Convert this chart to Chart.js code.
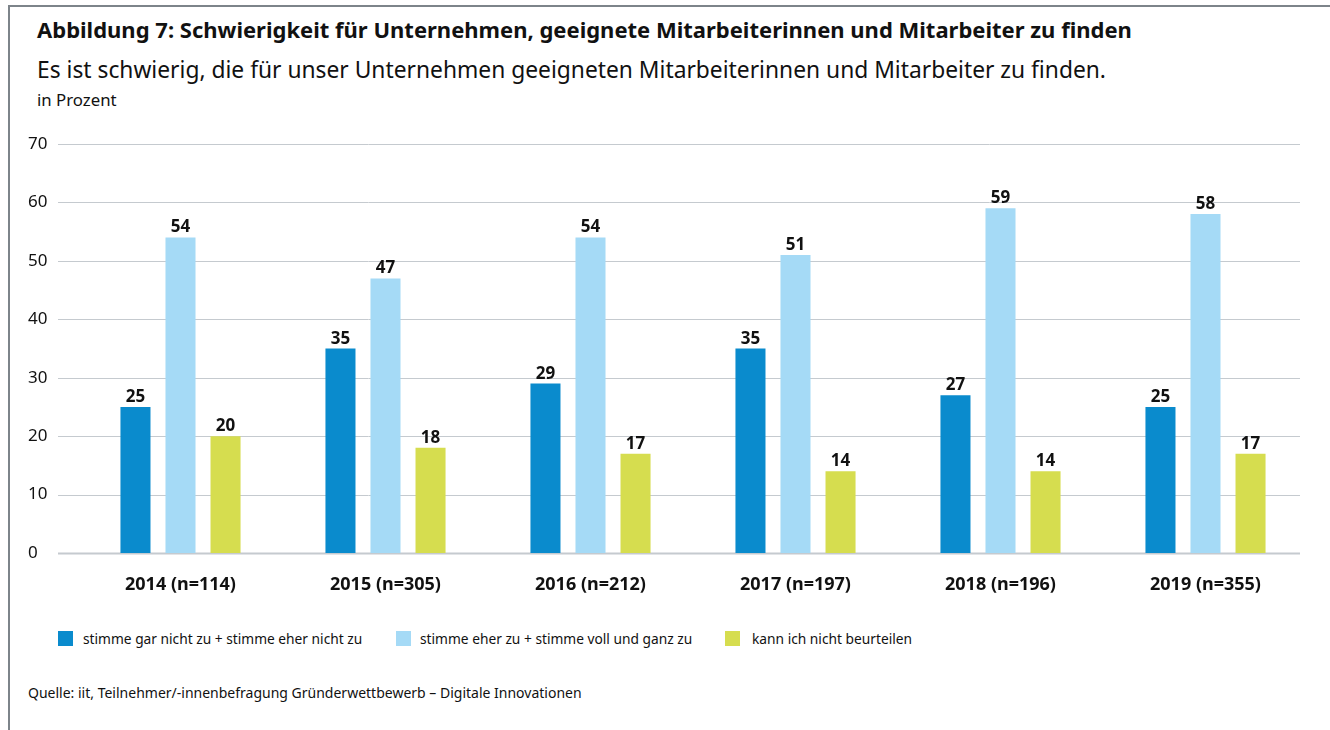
<!DOCTYPE html>
<html>
<head>
<meta charset="utf-8">
<script src="https://cdn.jsdelivr.net/npm/chart.js@4"></script>
<style>
  html, body { margin: 0; padding: 0; background: #fff; }
  body { width: 1330px; height: 730px; position: relative; overflow: hidden; font-family: "Noto Sans", sans-serif; color: #111; }
  .frame { position: absolute; left: 8px; top: 5px; width: 1330px; height: 740px; border-left: 2px solid #7d848a; border-top: 2px solid #7d848a; }
  .title { position: absolute; left: 37px; top: 14px; font-size: 22px; font-weight: 700; white-space: nowrap; }
  .subtitle { position: absolute; left: 37px; top: 54px; font-size: 22.8px; white-space: nowrap; }
  .unit { position: absolute; left: 37px; top: 88px; font-size: 16.8px; white-space: nowrap; }
  #wrap { position: absolute; left: 0; top: 130px; width: 1330px; height: 470px; }
  .legend { position: absolute; top: 630px; left: 0; font-size: 13.75px; }
  .legend .sw { position: absolute; top: 1px; width: 15px; height: 15px; }
  .legend .lbl { position: absolute; top: -1px; white-space: nowrap; }
  .source { position: absolute; left: 28px; top: 683px; font-size: 14px; white-space: nowrap; }
</style>
</head>
<body>
<div class="frame"></div>
<div class="title">Abbildung 7: Schwierigkeit für Unternehmen, geeignete Mitarbeiterinnen und Mitarbeiter zu finden</div>
<div class="subtitle">Es ist schwierig, die für unser Unternehmen geeigneten Mitarbeiterinnen und Mitarbeiter zu finden.</div>
<div class="unit">in Prozent</div>
<div id="wrap"><canvas id="chart"></canvas></div>
<div class="legend" id="legend"></div>
<div class="source">Quelle: iit, Teilnehmer/-innenbefragung Gründerwettbewerb – Digitale Innovationen</div>
<script>
const categories = ['2014 (n=114)', '2015 (n=305)', '2016 (n=212)', '2017 (n=197)', '2018 (n=196)', '2019 (n=355)'];
const seriesNames = [
  'stimme gar nicht zu + stimme eher nicht zu',
  'stimme eher zu + stimme voll und ganz zu',
  'kann ich nicht beurteilen'
];
const disagree = [25, 35, 29, 35, 27, 25];
const agree = [54, 47, 54, 51, 59, 58];
const cannotJudge = [20, 18, 17, 14, 14, 17];
const yTicks = [0, 10, 20, 30, 40, 50, 60, 70];
const colors = ['#0a8bcd', '#a5daf6', '#d6dd4f'];

// HTML-Legende mit festen Positionen
const legendPos = [[58, 83], [396, 420], [725, 752]];
const legend = document.getElementById('legend');
seriesNames.forEach((name, i) => {
  const sw = document.createElement('div');
  sw.className = 'sw';
  sw.style.left = legendPos[i][0] + 'px';
  sw.style.background = colors[i];
  const lbl = document.createElement('div');
  lbl.className = 'lbl';
  lbl.style.left = legendPos[i][1] + 'px';
  lbl.textContent = name;
  legend.appendChild(sw);
  legend.appendChild(lbl);
});

// Gitterlinien von x=58 bis x=1300
const gridPlugin = {
  id: 'gridLines',
  beforeDatasetsDraw(chart) {
    const ctx = chart.ctx;
    const y = chart.scales.y;
    ctx.save();
    yTicks.forEach(v => {
      const py = Math.round(y.getPixelForValue(v)) + 0.5;
      ctx.strokeStyle = '#c5cacf';
      ctx.lineWidth = v === 0 ? 2 : 1;
      ctx.beginPath();
      ctx.moveTo(58, py);
      ctx.lineTo(1300, py);
      ctx.stroke();
    });
    ctx.restore();
  }
};

// Werte über den Balken
const valuePlugin = {
  id: 'values',
  afterDatasetsDraw(chart) {
    const ctx = chart.ctx;
    ctx.save();
    ctx.font = 'bold 17px "Noto Sans"';
    ctx.fillStyle = '#111';
    ctx.textAlign = 'center';
    ctx.textBaseline = 'alphabetic';
    chart.data.datasets.forEach((ds, i) => {
      chart.getDatasetMeta(i).data.forEach((bar, j) => {
        ctx.fillText(ds.data[j], bar.x, bar.y - 5);
      });
    });
    ctx.restore();
  }
};

new Chart(document.getElementById('chart'), {
  type: 'bar',
  data: {
    labels: categories,
    datasets: [
      { label: seriesNames[0], data: disagree, backgroundColor: colors[0] },
      { label: seriesNames[1], data: agree, backgroundColor: colors[1] },
      { label: seriesNames[2], data: cannotJudge, backgroundColor: colors[2] }
    ]
  },
  options: {
    responsive: true,
    maintainAspectRatio: false,
    animation: false,
    categoryPercentage: 0.659,
    barPercentage: 0.667,
    layout: { padding: { left: 28, right: 22, top: 14, bottom: 0 } },
    plugins: {
      legend: { display: false },
      tooltip: { enabled: false }
    },
    scales: {
      x: {
        grid: { display: false },
        border: { display: false },
        ticks: { color: '#111', font: { family: 'Noto Sans', size: 18, weight: 'bold' }, padding: 13 },
        afterFit(scale) { scale.height = 47; }
      },
      y: {
        min: 0,
        max: 70,
        grid: { display: false },
        border: { display: false },
        afterBuildTicks(scale) { scale.ticks = yTicks.map(v => ({ value: v })); },
        ticks: { color: '#111', crossAlign: 'far', font: { family: 'Noto Sans', size: 17 } },
        afterFit(scale) { scale.width = 50; }
      }
    }
  },
  plugins: [gridPlugin, valuePlugin]
});
</script>
</body>
</html>
